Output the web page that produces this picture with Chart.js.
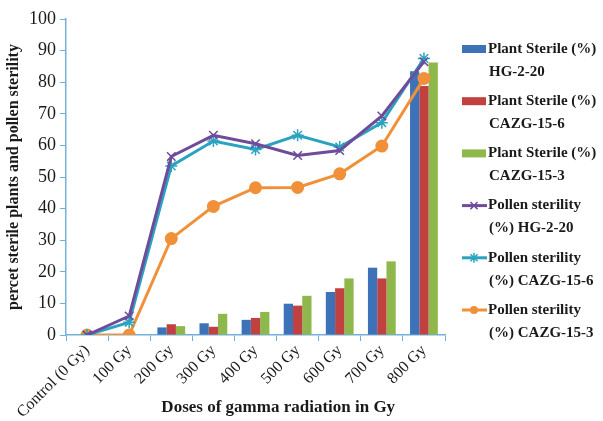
<!DOCTYPE html>
<html>
<head>
<meta charset="utf-8">
<script src="https://cdn.jsdelivr.net/npm/chart.js@4/dist/chart.umd.min.js"></script>
<style>
  body { margin: 0; background: #fff; }
  #wrap { width: 603px; height: 421px; position: relative; }
</style>
</head>
<body>
<div id="wrap"><canvas id="doseChart"></canvas></div>
<script>
var doses = ["Control (0 Gy)", "100 Gy", "200 Gy", "300 Gy", "400 Gy", "500 Gy", "600 Gy", "700 Gy", "800 Gy"];

// plant sterility (%) - bars
var plantHG = [0, 0, 2.4, 3.7, 4.8, 9.9, 13.6, 21.3, 83.5];
var plantCAZG6 = [0, 0, 3.4, 2.6, 5.4, 9.3, 14.8, 17.9, 78.8];
var plantCAZG3 = [0, 0, 2.8, 6.7, 7.3, 12.4, 17.9, 23.3, 86.2];

// pollen sterility (%) - lines
var pollenHG = [0, 6, 56.5, 63.2, 60.5, 56.8, 58.4, 69.3, 86.5];
var pollenCAZG6 = [0, 4, 53.5, 61.4, 58.7, 63.2, 59.5, 67.2, 87.5];
var pollenCAZG3 = [0, 0, 30.5, 40.7, 46.6, 46.7, 51, 59.8, 81.2];

var legendLines = [
  ["Plant Sterile (%)", "HG-2-20"],
  ["Plant Sterile (%)", "CAZG-15-6"],
  ["Plant Sterile (%)", "CAZG-15-3"],
  ["Pollen sterility", "(%) HG-2-20"],
  ["Pollen sterility", "(%) CAZG-15-6"],
  ["Pollen sterility", "(%) CAZG-15-3"]
];
var xTitle = 'Doses of gamma radiation in Gy';

var axisBlue = '#74b1d8';
var serif = '"Liberation Serif", "Times New Roman", serif';

function marker(ctx, style, x, y, r, color) {
  ctx.save();
  ctx.strokeStyle = color;
  ctx.fillStyle = color;
  ctx.lineWidth = 1.5;
  ctx.beginPath();
  if (style === 'circle') {
    ctx.arc(x, y, r, 0, Math.PI * 2);
    ctx.fill();
  } else {
    var d = r * Math.SQRT1_2;
    ctx.moveTo(x - d, y - d); ctx.lineTo(x + d, y + d);
    ctx.moveTo(x - d, y + d); ctx.lineTo(x + d, y - d);
    if (style === 'star') {
      ctx.moveTo(x, y - r); ctx.lineTo(x, y + r);
      ctx.moveTo(x - r, y); ctx.lineTo(x + r, y);
    }
    ctx.stroke();
  }
  ctx.restore();
}

// legend on the right (two lines per entry) + x title, which sits a bit right of the plot centre
var sideLegend = {
  id: 'sideLegend',
  afterDraw: function(chart) {
    var ctx = chart.ctx;
    ctx.save();
    ctx.font = 'bold 15px ' + serif;
    ctx.textBaseline = 'middle';
    chart.data.datasets.forEach(function(ds, i) {
      var x = 462, y = 49 + i * 52.2;
      if (ds.type === 'line') {
        ctx.strokeStyle = ds.borderColor;
        ctx.lineWidth = 3;
        ctx.beginPath();
        ctx.moveTo(x, y); ctx.lineTo(x + 25, y);
        ctx.stroke();
        marker(ctx, ds.pointStyle, x + 12, y, ds.pointStyle === 'circle' ? 4 : 5, ds.borderColor);
      } else {
        ctx.fillStyle = ds.backgroundColor;
        ctx.fillRect(x, y - 4, 24, 8);
      }
      ctx.fillStyle = '#1a1a1a';
      ctx.fillText(legendLines[i][0], x + 26, y);
      ctx.fillText(legendLines[i][1], x + 27, y + 23);
    });
    ctx.font = 'bold 17px ' + serif;
    ctx.textAlign = 'center';
    ctx.fillText(xTitle, chart.chartArea.left + (chart.chartArea.right - chart.chartArea.left) * 0.56, 408);
    ctx.restore();
  }
};

var cx = document.getElementById('doseChart');
var doseChart = new Chart(cx, {
  type: 'bar',
  data: {
    labels: doses,
    datasets: [
      { label: legendLines[0].join(' '), data: plantHG, backgroundColor: '#3d72b8', order: 2 },
      { label: legendLines[1].join(' '), data: plantCAZG6, backgroundColor: '#c0413f', order: 2 },
      { label: legendLines[2].join(' '), data: plantCAZG3, backgroundColor: '#8fb84c', order: 2 },
      { type: 'line', label: legendLines[3].join(' '), data: pollenHG, borderColor: '#6e4c9a', backgroundColor: '#6e4c9a',
        borderWidth: 3, pointStyle: 'crossRot', pointRadius: 6, pointBorderWidth: 1.5, tension: 0, order: 1 },
      { type: 'line', label: legendLines[4].join(' '), data: pollenCAZG6, borderColor: '#2aa3c0', backgroundColor: '#2aa3c0',
        borderWidth: 3, pointStyle: 'star', pointRadius: 6, pointBorderWidth: 1.5, tension: 0, order: 1 },
      { type: 'line', label: legendLines[5].join(' '), data: pollenCAZG3, borderColor: '#f0913a', backgroundColor: '#f0913a',
        borderWidth: 3, pointStyle: 'circle', pointRadius: 5, tension: 0, order: 1 }
    ]
  },
  options: {
    responsive: true,
    maintainAspectRatio: false,
    animation: false,
    layout: { padding: { top: 19, right: 158, left: 4, bottom: 2 } },
    datasets: { bar: { categoryPercentage: 0.66, barPercentage: 1.0 } },
    plugins: {
      legend: { display: false },
      tooltip: { enabled: false }
    },
    scales: {
      x: {
        grid: { drawOnChartArea: false, color: axisBlue, tickLength: 6, offset: true },
        border: { color: axisBlue, width: 1.5 },
        ticks: { color: '#1a1a1a', font: { family: serif, size: 16 }, minRotation: 45, maxRotation: 45, padding: 0 },
        afterFit: function(axis) { axis.height = 84; }
      },
      y: {
        min: 0, max: 100,
        grid: { drawOnChartArea: false, color: axisBlue, tickLength: 6 },
        border: { color: axisBlue, width: 1.5 },
        ticks: { stepSize: 10, color: '#1a1a1a', font: { family: serif, size: 18 }, padding: 4 },
        title: { display: true, text: 'percet sterile plants and pollen sterility', color: '#1a1a1a',
                 font: { family: serif, size: 16, weight: 'bold' }, padding: { top: 0, bottom: 1 } },
        afterFit: function(axis) { axis.width = 62; }
      }
    }
  },
  plugins: [sideLegend]
});
</script>
</body>
</html>
